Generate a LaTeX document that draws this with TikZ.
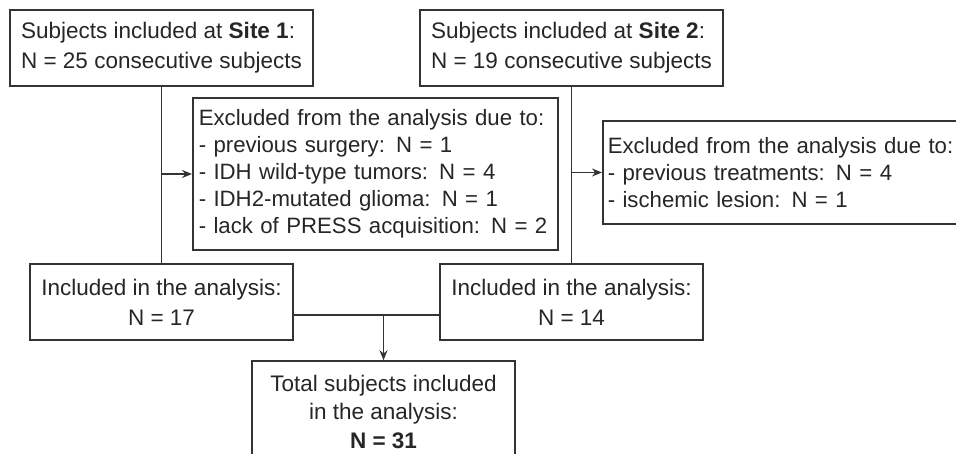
\documentclass[tikz,border=0pt]{standalone}
\usepackage{fontspec}
\setmainfont{Liberation Sans}
\usetikzlibrary{arrows.meta}

\begin{document}
\begin{tikzpicture}[x=1pt,y=1pt,
  box/.style={draw=black!80,line width=1.5pt,text=black!85,inner sep=0pt,
    font=\fontsize{22.5}{30}\selectfont},
  sitebox/.style={box,align=left,minimum width=303pt,minimum height=76pt},
  exclbox/.style={box,align=left,font=\fontsize{22.2}{27}\selectfont},
  inclbox/.style={box,align=center,minimum width=263pt,minimum height=76pt},
  conn/.style={draw=black!80,line width=1.5pt},
  arr/.style={conn,-{Stealth[length=10pt,width=8pt]}}]
\useasboundingbox (0,0) rectangle (956,453);
\filldraw[color=white] (0,0) rectangle (956,453);
% Drawing boxes
% Site 1 and Site 2
\node[sitebox] (site1) at (161.5,405) {Subjects included at \textbf{Site 1}:\\N = 25 consecutive subjects};
\node[sitebox] (site2) at (571.5,405) {Subjects included at \textbf{Site 2}:\\N = 19 consecutive subjects};
% Exclusions
\node[exclbox,anchor=west,text width=353pt,inner xsep=6pt,minimum height=152pt] (excl1) at (192,279) {Excluded from the analysis due to:\\- previous surgery: N = 1\\- IDH wild-type tumors: N = 4\\- IDH2-mutated glioma: N = 1\\- lack of PRESS acquisition: N = 2};
\node[exclbox,anchor=west,text width=357pt,inner xsep=5pt,minimum height=103pt] (excl2) at (602,280.5) {Excluded from the analysis due to:\\- previous treatments: N = 4\\- ischemic lesion: N = 1};
% Included per site
\node[inclbox] (incl1) at (161.5,151) {Included in the analysis:\\N = 17};
\node[inclbox] (incl2) at (571.5,151) {Included in the analysis:\\N = 14};
% Total
\node[box,align=center,minimum width=263pt,minimum height=101pt,font=\fontsize{22.5}{28.5}\selectfont] (total) at (383.5,41.5) {Total subjects included\\in the analysis:\\\textbf{N = 31}};
% Done with boxes; drawing connectors
\draw[conn] (site1.south) -- (incl1.north);
\draw[arr] (site1.south |- excl1.west) -- (excl1.west);
\draw[conn] (site2.south) -- (incl2.north);
\draw[arr] (site2.south |- excl2.west) -- (excl2.west);
\coordinate (join) at (383.5,138);
\draw[conn] (incl1.east |- join) -- (incl2.west |- join);
\draw[arr] (join) -- (total.north);
% Done with connectors
\end{tikzpicture}
\end{document}
